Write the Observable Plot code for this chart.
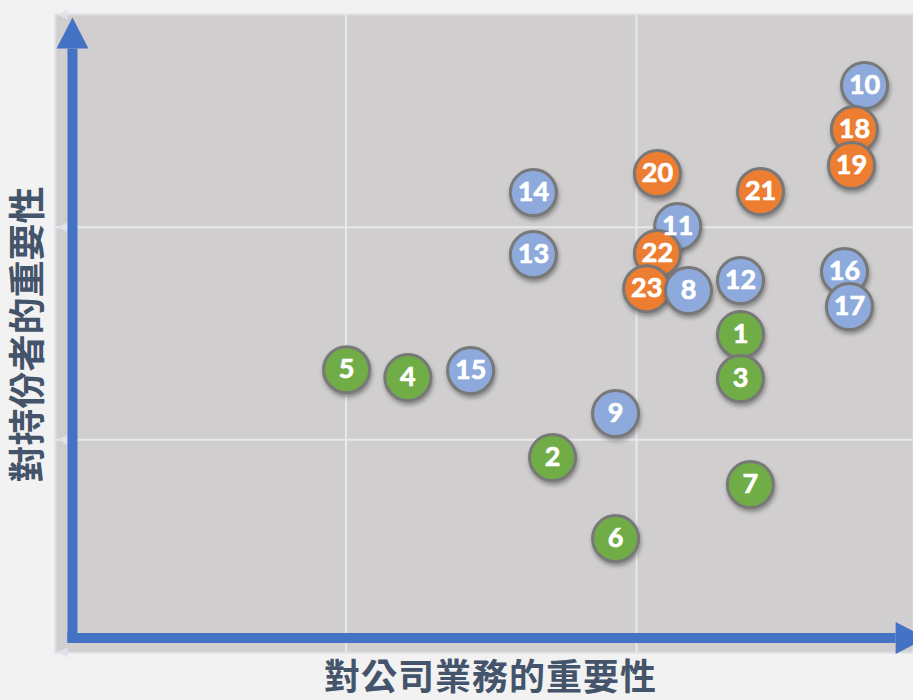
<!DOCTYPE html>
<html>
<head>
<meta charset="utf-8">
<script src="https://cdn.jsdelivr.net/npm/d3@7"></script>
<script src="https://cdn.jsdelivr.net/npm/@observablehq/plot@0.6"></script>
<style>
  html, body { margin: 0; padding: 0; background: #f2f2f2; overflow: hidden; }
  #chart { width: 913px; height: 700px; }
  g[aria-label="dot"] circle { filter: drop-shadow(1px 3px 2px rgba(0,0,0,0.35)); }
  g[aria-label="text"].xtitle text { letter-spacing: 1px; }
</style>
</head>
<body>
<div id="chart"></div>
<script>
// ---- data (in grid units: each grid cell = 1) ----
const ids    = [1, 2, 3, 4, 5, 6, 7, 9, 10, 11, 12, 13, 14, 15, 16, 17, 18, 19, 20, 21, 22, 23, 8];
const xs     = [2.358, 1.711, 2.358, 1.213, 1.002, 1.928, 2.392, 1.928, 2.785, 2.142, 2.358, 1.645, 1.645, 1.429, 2.716, 2.733, 2.750, 2.740, 2.072, 2.427, 2.072, 2.035, 2.179];
const ys     = [1.495, 0.917, 1.288, 1.293, 1.330, 0.536, 0.790, 1.124, 2.666, 2.003, 1.749, 1.871, 2.163, 1.326, 1.791, 1.627, 2.459, 2.290, 2.252, 2.168, 1.876, 1.711, 1.702];
const groups = ["g","g","g","g","g","g","g","b","b","b","b","b","b","b","b","b","o","o","o","o","o","o","b"];
const groupColors = {g: "#70ad47", b: "#8eaadc", o: "#ed7d31"};

const gridTicks = [1, 2];
const yAxisTicks = [0, 1, 2, 3];
const xTitle = "對公司業務的重要性";
const yTitle = "對持份者的重要性";

const xDomain = [0, 858 / 290.5];
const yDomain = [0, 3];

// axis arrows (decoration, in grid units)
const arrowX = {x1: 0.041, x2: 2.892, y: 0.068};
const arrowY = {x: 0.0585, y1: 0.045, y2: 2.840};

const bubbles = ids.map((id, i) => ({id, x: xs[i], y: ys[i], color: groupColors[groups[i]]}));

const arrowHead = {
  draw(ctx) {
    const w = 32, h = 31;
    ctx.moveTo(0, -h); ctx.lineTo(w / 2, 0); ctx.lineTo(-w / 2, 0); ctx.closePath();
  }
};
const tickHead = {
  draw(ctx) {
    ctx.moveTo(-5, 0); ctx.lineTo(5, -5); ctx.lineTo(5, 5); ctx.closePath();
  }
};

const chart = Plot.plot({
  width: 913,
  height: 700,
  marginLeft: 55,
  marginRight: 0,
  marginTop: 14,
  marginBottom: 48,
  style: {background: "transparent", overflow: "visible"},
  x: {domain: xDomain, axis: null},
  y: {domain: yDomain, axis: null},
  marks: [
    Plot.frame({fill: "#d0cece", stroke: "#dcdee2", strokeWidth: 2}),
    Plot.ruleX(gridTicks, {stroke: "#e8e8ed", strokeWidth: 2}),
    Plot.ruleY(gridTicks, {stroke: "#e8e8ed", strokeWidth: 2}),
    Plot.dot(yAxisTicks, {x: xDomain[0], y: d => d, symbol: tickHead, fill: "#dde3ea", dx: 7}),
    Plot.link([arrowX], {x1: "x1", x2: "x2", y1: "y", y2: "y", stroke: "#4472c4", strokeWidth: 10, strokeOpacity: 1}),
    Plot.link([arrowY], {x1: "x", x2: "x", y1: "y1", y2: "y2", stroke: "#4472c4", strokeWidth: 10, strokeOpacity: 1}),
    Plot.dot([arrowY], {x: "x", y: "y2", symbol: arrowHead, fill: "#4472c4", stroke: "none"}),
    Plot.dot([arrowX], {x: "x2", y: "y", symbol: arrowHead, rotate: 90, fill: "#4472c4", stroke: "none"}),
    Plot.dot(bubbles, {x: "x", y: "y", r: 23, fill: "color", stroke: "#787878", strokeWidth: 3}),
    Plot.text(bubbles, {x: "x", y: "y", text: d => String(d.id), fill: "white", stroke: "white", strokeWidth: 0.7, fontSize: 27, fontWeight: "bold", fontFamily: "Lato, 'Open Sans', sans-serif"}),
    Plot.text([xTitle], {className: "xtitle", frameAnchor: "bottom", textAnchor: "middle", lineAnchor: "middle", dy: 26, dx: 6, fontSize: 36, fontWeight: "bold", fill: "#44546a", fontFamily: "'Noto Sans CJK TC', sans-serif"}),
    Plot.text([yTitle], {frameAnchor: "left", textAnchor: "middle", lineAnchor: "middle", rotate: -90, dx: -26, dy: 1, fontSize: 37, fontWeight: "bold", fill: "#44546a", fontFamily: "'Noto Sans CJK TC', sans-serif"})
  ]
});
document.getElementById("chart").appendChild(chart);
</script>
</body>
</html>
